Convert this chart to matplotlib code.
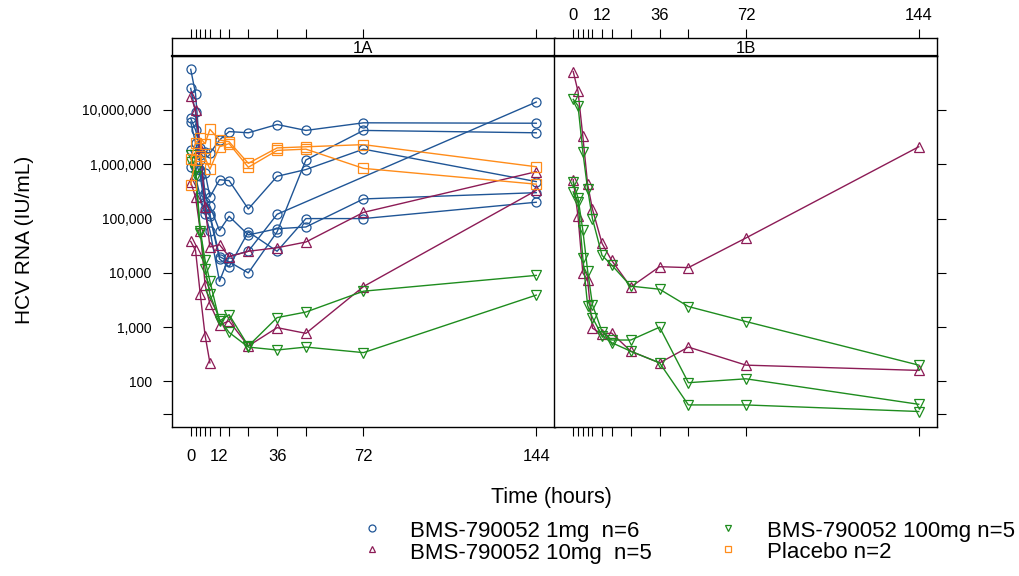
import numpy as np
import matplotlib
matplotlib.use("Agg")
import matplotlib.pyplot as plt
from matplotlib.lines import Line2D
from matplotlib.ticker import NullLocator

plt.rcParams['font.family'] = ['Liberation Sans', 'DejaVu Sans']

nan = np.nan
hours = [0, 2, 4, 6, 8, 12, 16, 24, 36, 48, 72, 144]

# ---------------- Panel 1A ----------------
# BMS-790052 1mg (6 subjects)
a_1mg_s1 = [7.0e6, 4.3e6, 2.0e6, 1.7e6, 1.6e6, 2.8e6, 4.0e6, 3.8e6, 5.4e6, 4.2e6, 5.8e6, 5.7e6]
a_1mg_s2 = [5.6e7, 2.0e7, 1.5e6, 3.0e5, 1.2e5, 2.0e4, 1.6e4, 1.0e4, 5.7e4, 1.2e6, 4.2e6, 3.8e6]
a_1mg_s3 = [6.0e6, 2.5e6, 1.2e6, 7.0e5, 2.5e5, 5.2e5, 5.0e5, 1.5e5, 6.0e5, 8.0e5, 1.9e6, 4.8e5]
a_1mg_s4 = [2.5e7, 9.0e6, 8.0e5, 2.0e5, 1.7e5, 6.0e4, 1.1e5, 5.0e4, 6.5e4, 7.0e4, 2.3e5, 3.0e5]
a_1mg_s5 = [1.8e6, 1.2e6, 6.0e5, 1.5e5, 1.1e5, 1.8e4, 1.3e4, 5.7e4, 2.5e4, 1.0e5, 1.0e5, 2.0e5]
a_1mg_s6 = [9.0e5, 6.0e5, 2.5e5, 1.2e5, 6.0e4, 7.0e3, 2.0e4, 2.5e4, 1.2e5, nan, nan, 1.4e7]
# BMS-790052 10mg
a_10mg_s1 = [1.8e7, 1.0e7, 2.0e6, 1.6e5, 3.0e4, 3.3e4, 2.0e4, 2.5e4, 2.9e4, 3.7e4, 1.3e5, 7.3e5]
a_10mg_s2 = [4.7e5, 2.5e5, 6.0e4, 6.0e3, 2.7e3, 1.1e3, 1.3e3, 4.5e2, 9.8e2, 7.7e2, 5.6e3, 3.3e5]
a_10mg_s3 = [3.8e4, 2.6e4, 4.0e3, 7.0e2, 2.2e2, nan, nan, nan, nan, nan, nan, nan]
# BMS-790052 100mg
a_100mg_s1 = [1.5e6, 8.0e5, 6.0e4, 1.7e4, 7.0e3, 1.3e3, 1.7e3, 4.5e2, 1.5e3, 1.9e3, 4.6e3, 9.0e3]
a_100mg_s2 = [1.1e6, 6.0e5, 5.5e4, 1.2e4, 4.0e3, 1.4e3, 8.0e2, 4.3e2, 3.8e2, 4.3e2, 3.4e2, 3.9e3]
# Placebo
a_pbo_s1 = [1.25e6, 2.5e6, 3.0e6, 2.4e6, 4.4e6, 2.8e6, 2.6e6, 1.04e6, 2.0e6, 2.1e6, 2.3e6, 9.0e5]
a_pbo_s2 = [4.2e5, 1.2e6, 1.4e6, 1.3e6, 8.1e5, 2.1e6, 2.4e6, 8.8e5, 1.8e6, 1.9e6, 8.4e5, 4.3e5]

# ---------------- Panel 1B ----------------
b_10mg_s1 = [5.1e7, 2.2e7, 3.3e6, 4.3e5, 1.5e5, 3.5e4, 1.7e4, 5.5e3, 1.3e4, 1.25e4, 4.4e4, 2.1e6]
b_10mg_s2 = [5.2e5, 1.1e5, 1.0e4, 7.4e3, 9.6e2, 7.4e2, 7.8e2, 3.6e2, 2.2e2, 4.3e2, 2.0e2, 1.6e2]
b_100mg_s1 = [1.57e7, 1.2e7, 1.7e6, 3.5e5, 1.0e5, 2.1e4, 1.4e4, 5.7e3, 5.0e3, 2.4e3, 1.27e3, 2.0e2]
b_100mg_s2 = [4.7e5, 2.4e5, 6.1e4, 1.1e4, 2.6e3, 8.3e2, 5.8e2, 5.8e2, 1.0e3, 9.5e1, 1.12e2, 3.8e1]
b_100mg_s3 = [3.1e5, 2.0e5, 1.9e4, 2.5e3, 1.5e3, 7.0e2, 5.2e2, 3.6e2, 2.2e2, 3.7e1, 3.7e1, 2.8e1]

panel_names = ["1A", "1B"]
group_labels = ["BMS-790052 1mg  n=6", "BMS-790052 10mg  n=5",
                "BMS-790052 100mg n=5", "Placebo n=2"]
group_colors = ["#1F5596", "#8C1B56", "#1E8C1E", "#FF8C1A"]
group_markers = ["o", "^", "v", "s"]

panel_data = {
    "1A": [[a_1mg_s1, a_1mg_s2, a_1mg_s3, a_1mg_s4, a_1mg_s5, a_1mg_s6],
           [a_10mg_s1, a_10mg_s2, a_10mg_s3],
           [a_100mg_s1, a_100mg_s2],
           [a_pbo_s1, a_pbo_s2]],
    "1B": [[],
           [b_10mg_s1, b_10mg_s2],
           [b_100mg_s1, b_100mg_s2, b_100mg_s3],
           []],
}

x_ticks = [0, 2, 4, 6, 8, 12, 16, 24, 36, 48, 72, 144]
x_ticklabels = ["0", "", "", "", "", "12", "", "", "36", "", "72", "144"]
y_ticks = [25, 1e2, 1e3, 1e4, 1e5, 1e6, 1e7]
y_ticklabels = ["", "100", "1,000", "10,000", "100,000", "1,000,000", "10,000,000"]

XLIM = (-7.8, 151.6)
YLIM = (14.7, 9.86e7)

W, H = 1020, 576
fig = plt.figure(figsize=(W / 100, H / 100), dpi=100)

px_left = [172, 554.5]
pw = 382.5
ptop, pbot = 56, 426.7
strip_h = 18

for i, name in enumerate(panel_names):
    ax = fig.add_axes([px_left[i] / W, 1 - pbot / H, pw / W, (pbot - ptop) / H])
    sx = fig.add_axes([px_left[i] / W, 1 - ptop / H, pw / W, strip_h / H])
    for g, series_list in enumerate(panel_data[name]):
        for s in series_list:
            h = np.array(hours, float)
            v = np.array(s, float)
            m = ~np.isnan(v)
            ax.plot(h[m], v[m], color=group_colors[g], lw=1.0,
                    marker=group_markers[g], ms=6.5, mfc="none",
                    mec=group_colors[g], mew=0.9, zorder=2 + g)
    ax.set_yscale("log")
    ax.set_xlim(*XLIM)
    ax.set_ylim(*YLIM)
    ax.yaxis.set_minor_locator(NullLocator())
    ax.xaxis.set_minor_locator(NullLocator())
    ax.set_xticks(x_ticks)
    ax.set_yticks(y_ticks)
    ax.tick_params(axis="both", direction="out", length=6.5, width=0.8,
                   colors="black")
    ax.tick_params(axis="x", pad=9.5, top=False, labelsize=12)
    ax.tick_params(axis="y", pad=8, labelsize=10)
    if i == 0:
        ax.set_xticklabels(x_ticklabels)
        ax.set_yticklabels(y_ticklabels)
        ax.tick_params(axis="y", left=True, right=False, labelleft=True)
    else:
        ax.set_xticklabels([""] * len(x_ticks))
        ax.tick_params(axis="y", left=False, right=True, labelleft=False,
                       labelright=False)
    for sp in ax.spines.values():
        sp.set_linewidth(1.0)

    # strip with top axis
    sx.set_xlim(*XLIM)
    sx.set_yticks([])
    sx.xaxis.set_minor_locator(NullLocator())
    sx.set_xticks(x_ticks)
    sx.tick_params(axis="x", direction="out", length=6.5, width=0.8,
                   top=True, bottom=False, labelbottom=False,
                   labeltop=(i == 1), labelsize=12, pad=4)
    if i == 1:
        sx.set_xticklabels(x_ticklabels)
    sx.text(0.5, 0.42, name, transform=sx.transAxes, ha="center",
            va="center", fontsize=12)
    for sp in sx.spines.values():
        sp.set_linewidth(1.0)
    sx.spines["bottom"].set_linewidth(1.6)

fig.text(25 / W, 1 - 240 / H, "HCV RNA (IU/mL)", rotation=90,
         ha="center", va="center", fontsize=15)
fig.text(551 / W, 1 - 497 / H, "Time (hours)", ha="center", va="center",
         fontsize=15.5)

# legend (two columns)
leg_pos = [(372, 410, 532), (372, 410, 553), (728, 767, 532), (728, 767, 553)]
for g, (mx, tx, ty) in enumerate(leg_pos):
    fig.add_artist(Line2D([mx / W], [1 - (ty - 4) / H], transform=fig.transFigure,
                          marker=group_markers[g], ms=5, mfc="none",
                          mec=group_colors[g], mew=0.9, ls="none"))
    fig.text(tx / W, 1 - ty / H, group_labels[g], ha="left", va="center",
             fontsize=16)

fig.savefig("out.png", dpi=100)
